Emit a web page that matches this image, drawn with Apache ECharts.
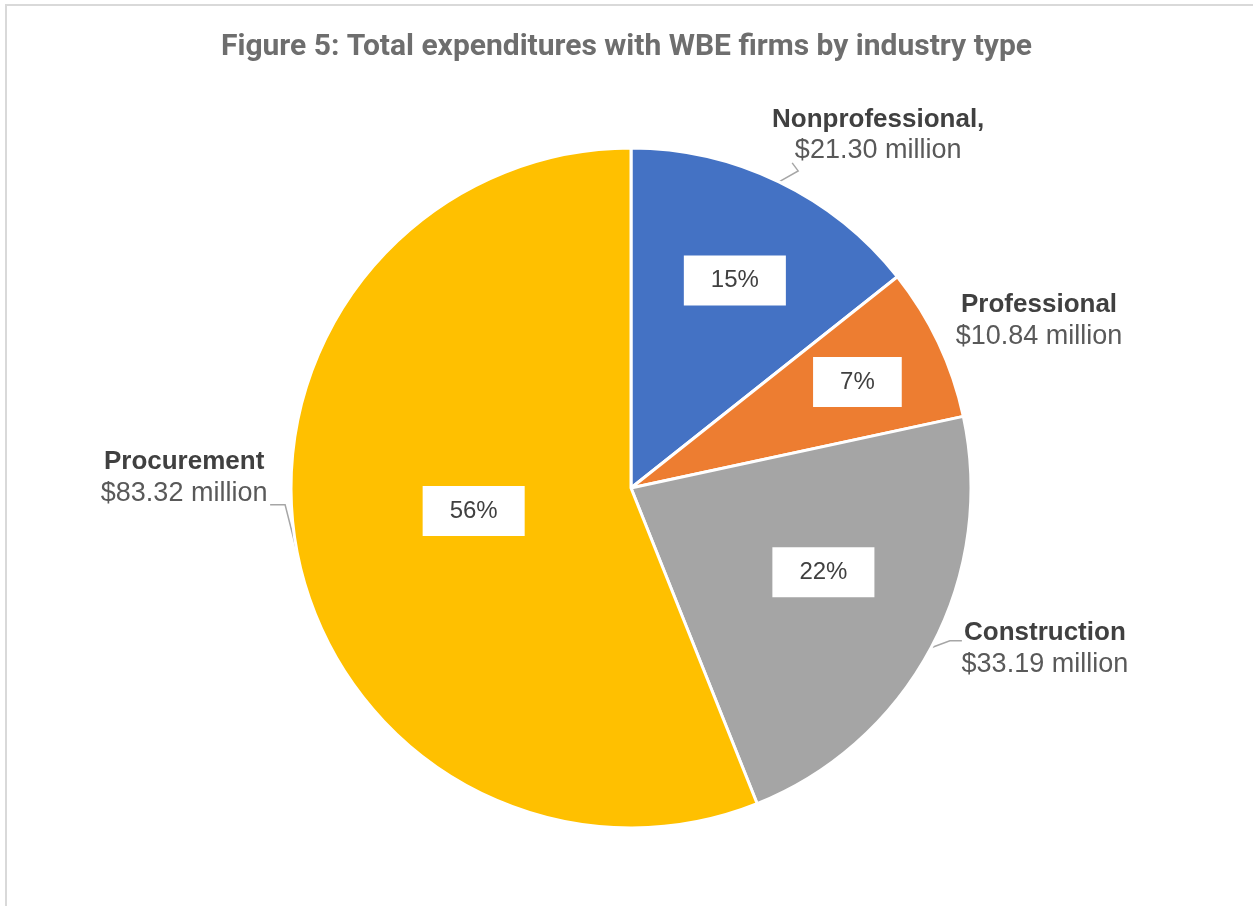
<!DOCTYPE html>
<html>
<head>
<meta charset="utf-8">
<title>Total expenditures with WBE firms by industry type</title>
<script src="https://cdn.jsdelivr.net/npm/echarts@6/dist/echarts.min.js"></script>
<style>
  html, body { margin: 0; padding: 0; background: #ffffff; }
  #chart { width: 1253px; height: 906px; }
</style>
</head>
<body>
<div id="chart"></div>
<script>
// Industry types and spending with WBE firms (millions of dollars)
const categories = ['Nonprofessional', 'Professional', 'Construction', 'Procurement'];
const amounts = [21.30, 10.84, 33.19, 83.32];
const shareLabels = ['15%', '7%', '22%', '56%'];
const nameLabels = ['Nonprofessional,', 'Professional', 'Construction', 'Procurement'];
const amountLabels = ['$21.30 million', '$10.84 million', '$33.19 million', '$83.32 million'];

const colors = ['#4472C4', '#ED7D31', '#A5A5A5', '#FFC000'];

// Pie geometry
const CX = 631, CY = 488, R = 340;
// Where each label block sits: angle offset (deg) from slice middle, distance from centre (px)
const innerOffset = [0.8, 0.2, -4.4, 2.6];
const innerDist = [232, 250, 210, 159];
const outerOffset = [9.2, 3.0, -6.8, 12.2];
const outerDist = [431, 441, 444, 447];
// Leader line bend and end, relative to the centre of its label block (null = no leader)
const leaderBend = [[-80, 36], null, [-95, -8], [101, 27]];
const leaderEnd = [[-86, 28], null, [-83, -8], [86, 27]];

const total = amounts.reduce((a, b) => a + b, 0);
const midAngles = [];
{
  let acc = 0;
  amounts.forEach(v => {
    const span = v / total * 360;
    midAngles.push(acc + span / 2);
    acc += span;
  });
}
function polarPoint(angleDeg, dist) {
  const a = angleDeg * Math.PI / 180;
  return [CX + dist * Math.sin(a), CY - dist * Math.cos(a)];
}

const FONT = '"Liberation Sans", Arial, sans-serif';

const chart = echarts.init(document.getElementById('chart'), null, { renderer: 'canvas' });

chart.setOption({
  backgroundColor: '#ffffff',
  animation: false,
  color: colors,
  title: {
    text: 'Figure 5: Total expenditures with WBE firms by industry type',
    left: 'center',
    top: 27,
    textStyle: {
      fontFamily: 'Roboto, ' + FONT,
      fontWeight: 'bold',
      fontSize: 30,
      color: '#6e6e6e'
    }
  },
  graphic: [{
    type: 'rect',
    silent: true,
    shape: { x: 6, y: 5, width: 1400, height: 1000 },
    style: { fill: 'none', stroke: '#d9d9d9', lineWidth: 2 }
  }],
  series: [
    {
      // slices with the share boxes inside
      type: 'pie',
      center: [CX, CY],
      radius: [0, R],
      startAngle: 90,
      clockwise: true,
      avoidLabelOverlap: false,
      itemStyle: { borderColor: '#ffffff', borderWidth: 3 },
      emphasis: { disabled: true },
      label: {
        show: true,
        position: 'inside',
        formatter: p => shareLabels[p.dataIndex],
        fontFamily: FONT,
        fontSize: 24,
        color: '#404040',
        backgroundColor: '#ffffff',
        padding: [13, 27, 13, 27]
      },
      labelLine: { show: false },
      labelLayout: p => {
        const i = p.dataIndex;
        const pt = polarPoint(midAngles[i] + innerOffset[i], innerDist[i]);
        return { x: pt[0], y: pt[1], align: 'center', verticalAlign: 'middle' };
      },
      data: categories.map((c, i) => ({ name: c, value: amounts[i] }))
    },
    {
      // invisible twin carrying the category labels and leader lines
      type: 'pie',
      center: [CX, CY],
      radius: [0, R],
      startAngle: 90,
      clockwise: true,
      silent: true,
      avoidLabelOverlap: false,
      itemStyle: { color: 'rgba(0,0,0,0)', borderWidth: 0 },
      emphasis: { disabled: true },
      label: {
        show: true,
        position: 'outside',
        formatter: p => '{n|' + nameLabels[p.dataIndex] + '}\n{v|' + amountLabels[p.dataIndex] + '}',
        rich: {
          n: { fontFamily: FONT, fontSize: 26, fontWeight: 'bold', color: '#404040', align: 'center', lineHeight: 31 },
          v: { fontFamily: FONT, fontSize: 27, color: '#595959', align: 'center', lineHeight: 31 }
        }
      },
      labelLine: {
        show: true,
        length: 10,
        length2: 10,
        lineStyle: { color: '#a6a6a6', width: 1.5 }
      },
      labelLayout: p => {
        const i = p.dataIndex;
        const c = polarPoint(midAngles[i] + outerOffset[i], outerDist[i]);
        const out = { x: c[0], y: c[1], align: 'center', verticalAlign: 'middle' };
        if (leaderEnd[i]) {
          out.labelLinePoints = [
            polarPoint(midAngles[i], R),
            [c[0] + leaderBend[i][0], c[1] + leaderBend[i][1]],
            [c[0] + leaderEnd[i][0], c[1] + leaderEnd[i][1]]
          ];
        }
        return out;
      },
      data: categories.map((c, i) => ({
        name: c,
        value: amounts[i],
        labelLine: { show: leaderEnd[i] !== null }
      }))
    }
  ]
});
</script>
</body>
</html>
